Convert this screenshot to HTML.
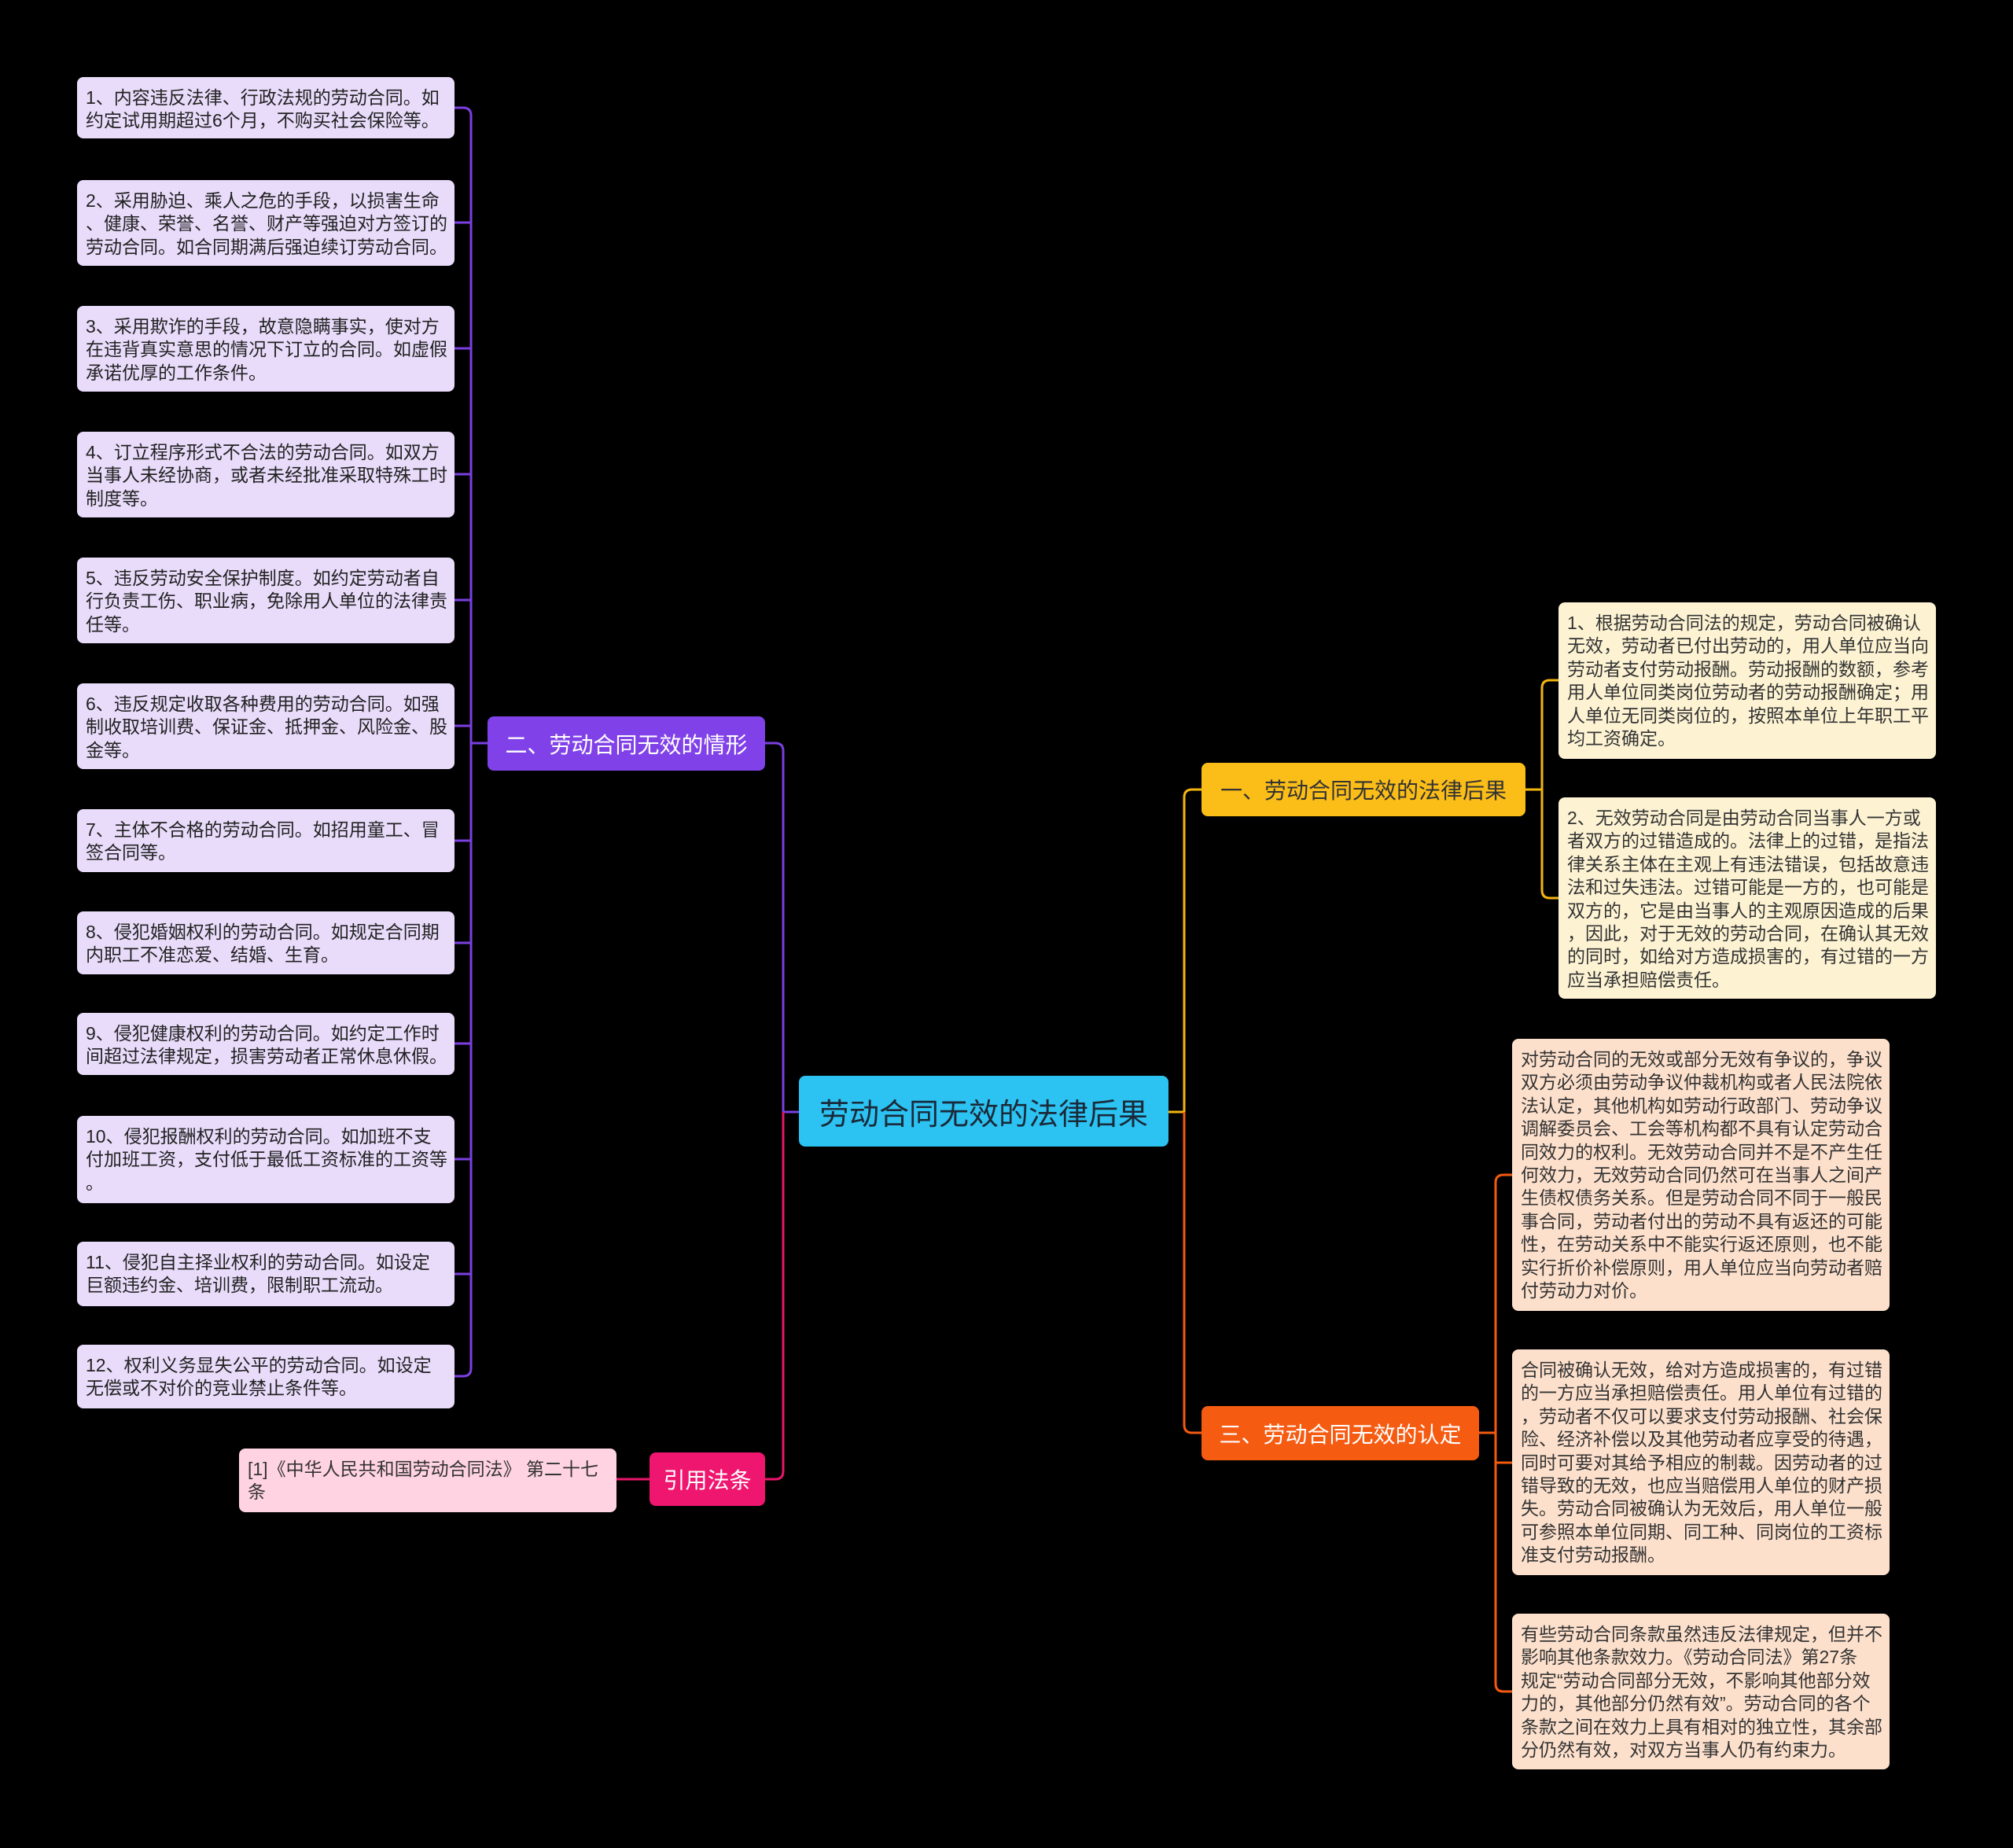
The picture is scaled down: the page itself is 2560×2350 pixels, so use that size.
<!DOCTYPE html>
<html><head><meta charset="utf-8">
<style>
html,body{margin:0;padding:0;background:#000;}
body{width:2560px;height:2350px;position:relative;overflow:hidden;font-family:"Liberation Sans","Noto Sans CJK SC",sans-serif;}
.b{position:absolute;box-sizing:border-box;border-radius:8px;font-size:23px;line-height:29.4px;padding:12px 11px 8px 11px;white-space:nowrap;color:#222;}
.l{background:#e9dcfb;left:98px;width:480px;}
.y{background:#fdf3d3;left:1982px;width:480px;color:#333;}
.o{background:#fde0cc;left:1923px;width:480px;color:#333;}
.n{position:absolute;box-sizing:border-box;border-radius:8px;display:flex;align-items:center;justify-content:center;white-space:nowrap;font-size:28px;}
</style></head><body>
<svg width="2560" height="2350" style="position:absolute;left:0;top:0" fill="none" stroke-width="3">
<g stroke="#7b3fe0">
<path d="M578,137 H589 Q599,137 599,147 V1740 Q599,1750 589,1750 H578"/>
<path d="M578,283 H599 M578,443 H599 M578,603 H599 M578,763 H599 M578,923 H599 M578,1069 H599 M578,1199 H599 M578,1327 H599 M578,1474 H599 M578,1620 H599 M599,945 H620"/>
<path d="M973,945 H986 Q996,945 996,955 V1414 H1016"/>
</g>
<g stroke="#e8176a">
<path d="M996,1414 V1871 Q996,1881 986,1881 H973"/>
<path d="M784,1881 H826"/>
</g>
<g stroke="#f5b50f">
<path d="M1486,1414 H1506 V1014 Q1506,1004 1516,1004 H1528"/>
<path d="M1940,1004 H1961 M1982,865 H1971 Q1961,865 1961,875 V1132 Q1961,1142 1971,1142 H1982"/>
</g>
<g stroke="#f25a10">
<path d="M1506,1414 V1812 Q1506,1822 1516,1822 H1528"/>
<path d="M1881,1822 H1902 M1923,1494 H1912 Q1902,1494 1902,1504 V2141 Q1902,2151 1912,2151 H1923 M1902,1860 H1923"/>
</g>
</svg>

<div class="b l" style="top:98px;height:78px">1、内容违反法律、行政法规的劳动合同。如<br>约定试用期超过6个月，不购买社会保险等。</div>
<div class="b l" style="top:229px;height:109px">2、采用胁迫、乘人之危的手段，以损害生命<br>、健康、荣誉、名誉、财产等强迫对方签订的<br>劳动合同。如合同期满后强迫续订劳动合同。</div>
<div class="b l" style="top:389px;height:109px">3、采用欺诈的手段，故意隐瞒事实，使对方<br>在违背真实意思的情况下订立的合同。如虚假<br>承诺优厚的工作条件。</div>
<div class="b l" style="top:549px;height:109px">4、订立程序形式不合法的劳动合同。如双方<br>当事人未经协商，或者未经批准采取特殊工时<br>制度等。</div>
<div class="b l" style="top:709px;height:109px">5、违反劳动安全保护制度。如约定劳动者自<br>行负责工伤、职业病，免除用人单位的法律责<br>任等。</div>
<div class="b l" style="top:869px;height:109px">6、违反规定收取各种费用的劳动合同。如强<br>制收取培训费、保证金、抵押金、风险金、股<br>金等。</div>
<div class="b l" style="top:1029px;height:80px">7、主体不合格的劳动合同。如招用童工、冒<br>签合同等。</div>
<div class="b l" style="top:1159px;height:80px">8、侵犯婚姻权利的劳动合同。如规定合同期<br>内职工不准恋爱、结婚、生育。</div>
<div class="b l" style="top:1288px;height:79px">9、侵犯健康权利的劳动合同。如约定工作时<br>间超过法律规定，损害劳动者正常休息休假。</div>
<div class="b l" style="top:1419px;height:111px">10、侵犯报酬权利的劳动合同。如加班不支<br>付加班工资，支付低于最低工资标准的工资等<br>。</div>
<div class="b l" style="top:1579px;height:82px">11、侵犯自主择业权利的劳动合同。如设定<br>巨额违约金、培训费，限制职工流动。</div>
<div class="b l" style="top:1710px;height:81px">12、权利义务显失公平的劳动合同。如设定<br>无偿或不对价的竞业禁止条件等。</div>

<div class="n" style="left:620px;top:911px;width:353px;height:69px;background:#8042e8;color:#fff;">二、劳动合同无效的情形</div>
<div class="b" style="left:304px;top:1842px;width:480px;height:81px;background:#ffd3e2;color:#333;">[1]《中华人民共和国劳动合同法》 第二十七<br>条</div>
<div class="n" style="left:826px;top:1847px;width:147px;height:68px;background:#ef1670;color:#fff;">引用法条</div>

<div class="n" style="left:1016px;top:1368px;width:470px;height:90px;background:#2cc3f2;color:#1a2a3a;font-size:38px;">劳动合同无效的法律后果</div>

<div class="n" style="left:1528px;top:970px;width:412px;height:68px;background:#fbbd17;color:#333;">一、劳动合同无效的法律后果</div>
<div class="n" style="left:1528px;top:1788px;width:353px;height:69px;background:#f65b12;color:#fff;">三、劳动合同无效的认定</div>

<div class="b y" style="top:766px;height:199px">1、根据劳动合同法的规定，劳动合同被确认<br>无效，劳动者已付出劳动的，用人单位应当向<br>劳动者支付劳动报酬。劳动报酬的数额，参考<br>用人单位同类岗位劳动者的劳动报酬确定；用<br>人单位无同类岗位的，按照本单位上年职工平<br>均工资确定。</div>
<div class="b y" style="top:1014px;height:256px">2、无效劳动合同是由劳动合同当事人一方或<br>者双方的过错造成的。法律上的过错，是指法<br>律关系主体在主观上有违法错误，包括故意违<br>法和过失违法。过错可能是一方的，也可能是<br>双方的，它是由当事人的主观原因造成的后果<br>，因此，对于无效的劳动合同，在确认其无效<br>的同时，如给对方造成损害的，有过错的一方<br>应当承担赔偿责任。</div>

<div class="b o" style="top:1321px;height:346px">对劳动合同的无效或部分无效有争议的，争议<br>双方必须由劳动争议仲裁机构或者人民法院依<br>法认定，其他机构如劳动行政部门、劳动争议<br>调解委员会、工会等机构都不具有认定劳动合<br>同效力的权利。无效劳动合同并不是不产生任<br>何效力，无效劳动合同仍然可在当事人之间产<br>生债权债务关系。但是劳动合同不同于一般民<br>事合同，劳动者付出的劳动不具有返还的可能<br>性，在劳动关系中不能实行返还原则，也不能<br>实行折价补偿原则，用人单位应当向劳动者赔<br>付劳动力对价。</div>
<div class="b o" style="top:1716px;height:287px">合同被确认无效，给对方造成损害的，有过错<br>的一方应当承担赔偿责任。用人单位有过错的<br>，劳动者不仅可以要求支付劳动报酬、社会保<br>险、经济补偿以及其他劳动者应享受的待遇，<br>同时可要对其给予相应的制裁。因劳动者的过<br>错导致的无效，也应当赔偿用人单位的财产损<br>失。劳动合同被确认为无效后，用人单位一般<br>可参照本单位同期、同工种、同岗位的工资标<br>准支付劳动报酬。</div>
<div class="b o" style="top:2052px;height:198px">有些劳动合同条款虽然违反法律规定，但并不<br>影响其他条款效力。《劳动合同法》第27条<br>规定“劳动合同部分无效，不影响其他部分效<br>力的，其他部分仍然有效”。劳动合同的各个<br>条款之间在效力上具有相对的独立性，其余部<br>分仍然有效，对双方当事人仍有约束力。</div>
</body></html>
